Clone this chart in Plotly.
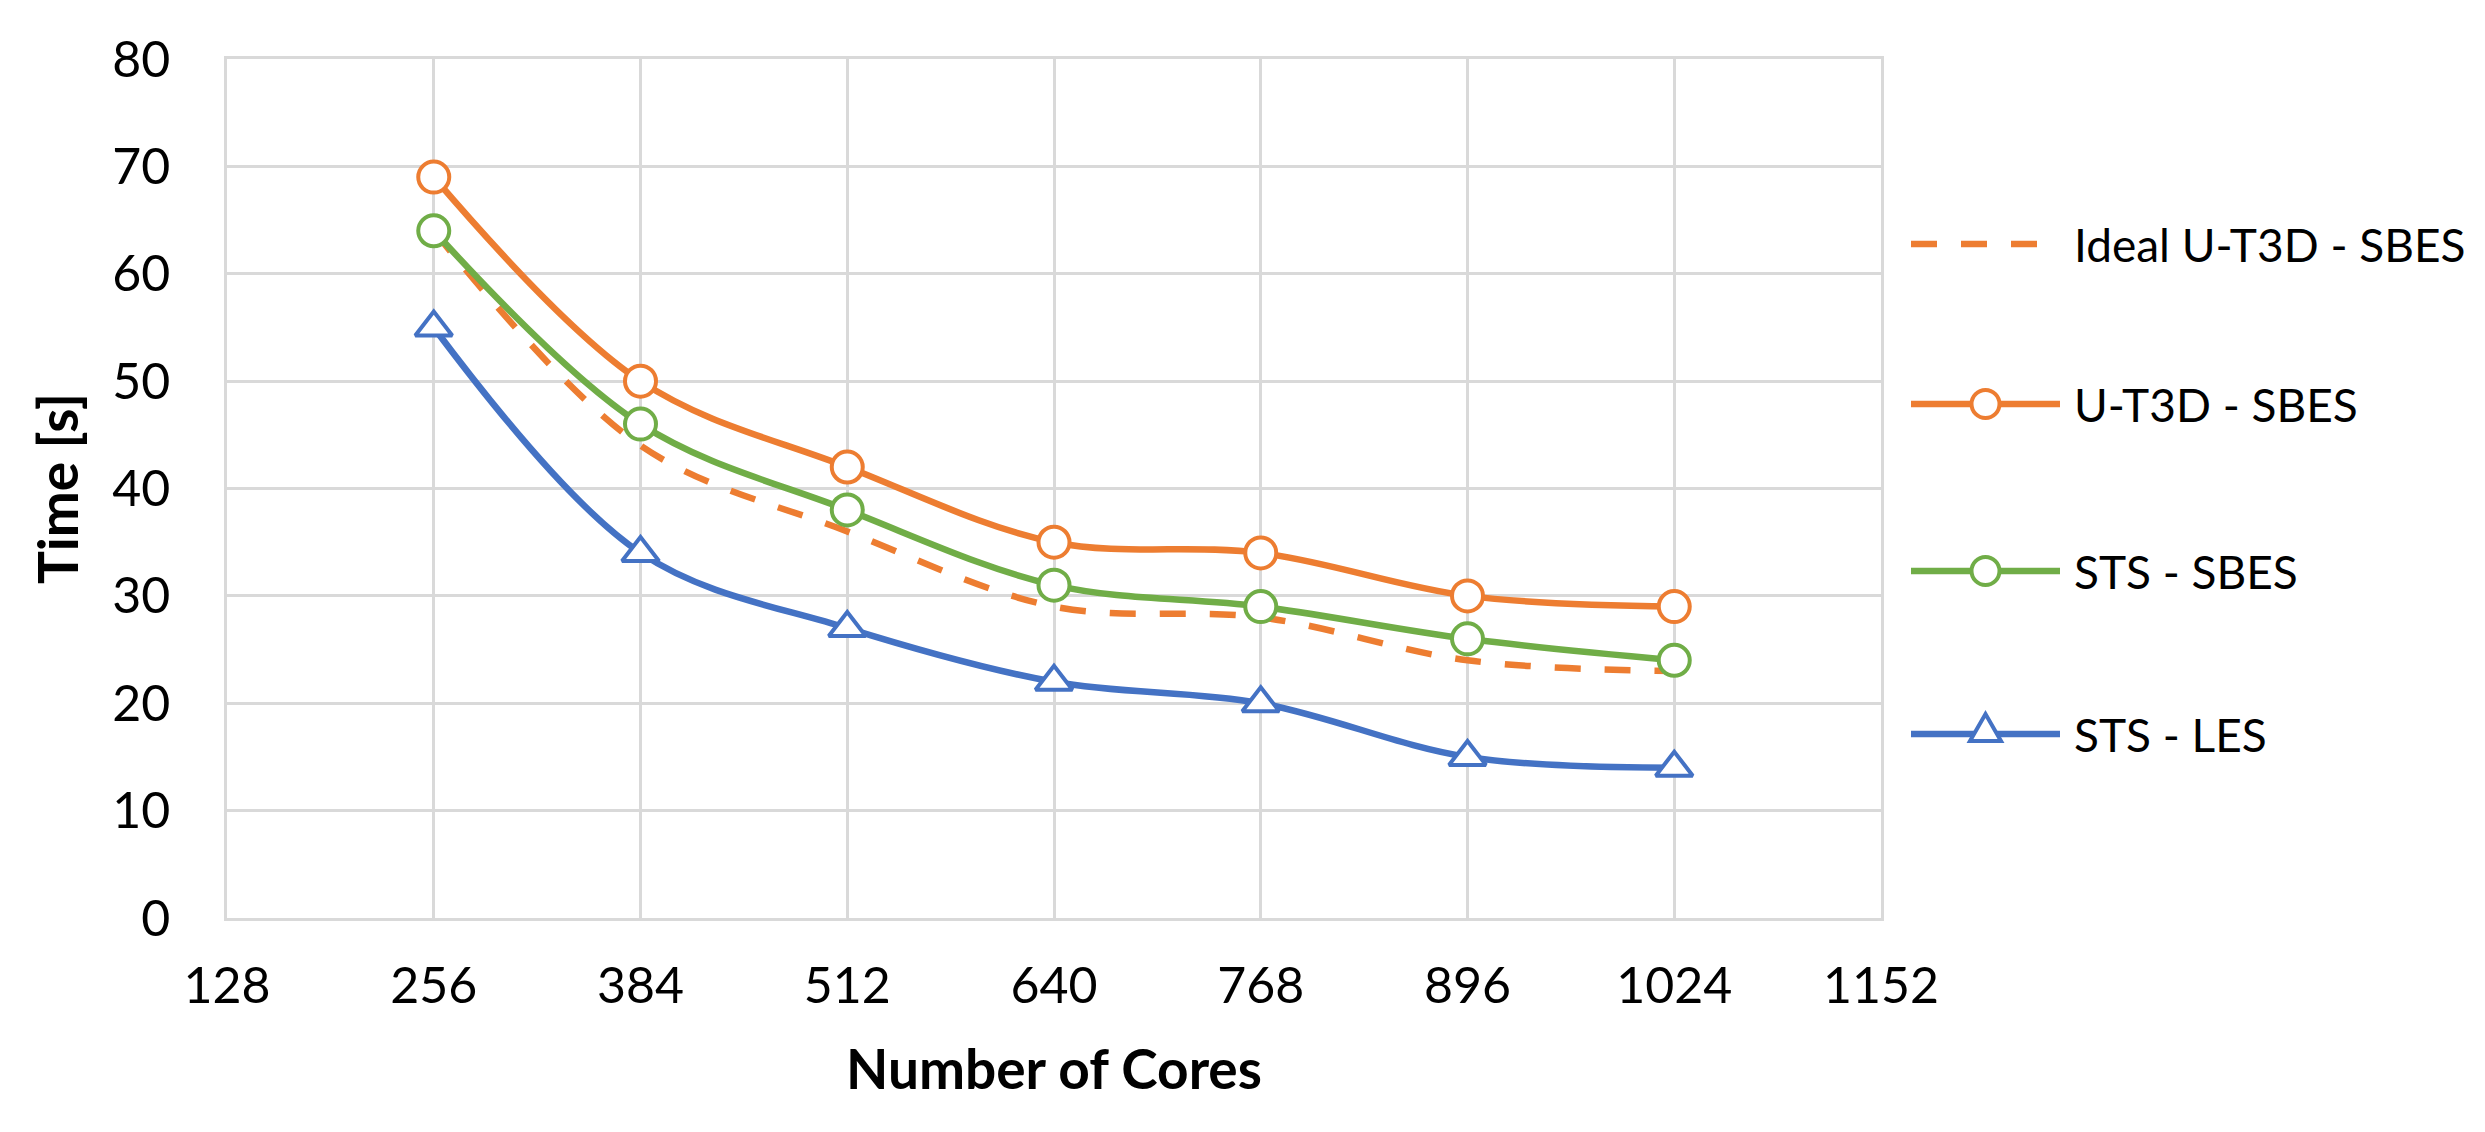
import plotly.graph_objects as go

# ---------------- data ----------------
cores = [256, 384, 512, 640, 768, 896, 1024]
ideal_ut3d_sbes = [64, 44, 36, 29, 28, 24, 23]
ut3d_sbes = [69, 50, 42, 35, 34, 30, 29]
sts_sbes = [64, 46, 38, 31, 29, 26, 24]
sts_les = [55, 34, 27, 22, 20, 15, 14]

x_ticks = [128, 256, 384, 512, 640, 768, 896, 1024, 1152]
y_ticks = [0, 10, 20, 30, 40, 50, 60, 70, 80]

series_names = ["Ideal U-T3D - SBES", "U-T3D - SBES", "STS - SBES", "STS - LES"]
series_colors = ["#ED7D31", "#ED7D31", "#70AD47", "#4472C4"]
series_symbols = [None, "circle", "circle", "triangle-up"]
series_values = [ideal_ut3d_sbes, ut3d_sbes, sts_sbes, sts_les]

FONT = "Lato, 'Open Sans', sans-serif"
GRID = "#D9D9D9"
W, H = 2485, 1132
ML, MR, MT, MB = 219, 612, 51, 222
LW = 6.5
DASH = "26px,24px"

fig = go.Figure()

# draw dashed first so the marker series sit over it
order = [0, 3, 2, 1]
for i in order:
    name, col, sym, vals = series_names[i], series_colors[i], series_symbols[i], series_values[i]
    if sym is None:
        fig.add_trace(go.Scatter(
            x=cores, y=vals, mode="lines", name=name,
            line=dict(color=col, width=LW, dash=DASH, shape="spline", smoothing=1.0),
            showlegend=False))
    else:
        fig.add_trace(go.Scatter(
            x=cores, y=vals, mode="lines+markers", name=name,
            line=dict(color=col, width=LW, shape="spline", smoothing=1.0),
            marker=dict(symbol=sym, size=31 if sym == "circle" else 32, color="white",
                        line=dict(color=col, width=4)),
            showlegend=False))

# ---------------- custom legend (layout, paper coords) ----------------
plot_w = W - ML - MR
plot_h = H - MT - MB
def px_to_paper_x(px):
    return (px - ML) / plot_w
def px_to_paper_y(py):
    return (H - MB - py) / plot_h

legend_y_px = [236, 396, 563, 726]
line_x0, line_x1, text_x = 1903, 2052, 2064
shapes = []
annotations = []
for k, (name, col, sym) in enumerate(zip(series_names, series_colors, series_symbols)):
    yp = px_to_paper_y(legend_y_px[k])
    shapes.append(dict(type="line", xref="paper", yref="paper",
                       x0=px_to_paper_x(line_x0), x1=px_to_paper_x(line_x1), y0=yp, y1=yp,
                       line=dict(color=col, width=LW, dash=DASH if sym is None else "solid")))
    xm = px_to_paper_x((line_x0 + line_x1) / 2)
    if sym == "circle":
        shapes.append(dict(type="circle", xref="paper", yref="paper",
                           xsizemode="pixel", ysizemode="pixel", xanchor=xm, yanchor=yp,
                           x0=-14, x1=14, y0=-14, y1=14,
                           fillcolor="white", line=dict(color=col, width=4)))
    elif sym == "triangle-up":
        shapes.append(dict(type="path", xref="paper", yref="paper",
                           xsizemode="pixel", ysizemode="pixel", xanchor=xm, yanchor=yp,
                           path="M -15.5 -7 L 15.5 -7 L 0 20 Z",
                           fillcolor="white", line=dict(color=col, width=4)))
    annotations.append(dict(xref="paper", yref="paper", x=px_to_paper_x(text_x), y=yp,
                            xanchor="left", yanchor="middle", text=name, showarrow=False,
                            font=dict(family=FONT, size=46, color="#000000")))

fig.update_layout(
    width=W, height=H,
    margin=dict(l=ML, r=MR, t=MT, b=MB),
    paper_bgcolor="white", plot_bgcolor="white",
    font=dict(family=FONT, color="#000000"),
    shapes=shapes, annotations=annotations,
    showlegend=False,
)
fig.update_xaxes(
    range=[128, 1152], tickvals=x_ticks, ticktext=[str(v) for v in x_ticks],
    showgrid=True, gridcolor=GRID, gridwidth=2.5,
    showline=True, linecolor=GRID, linewidth=2.5, mirror=True,
    zeroline=False, ticks="", ticklabelstandoff=22,
    tickfont=dict(family=FONT, size=50, color="#000000"),
    title=dict(text="<b>Number of Cores</b>", font=dict(family=FONT, size=55, color="#000000"), standoff=38),
)
fig.update_yaxes(
    range=[0, 80], tickvals=y_ticks, ticktext=[str(v) for v in y_ticks],
    showgrid=True, gridcolor=GRID, gridwidth=2.5,
    showline=True, linecolor=GRID, linewidth=2.5, mirror=True,
    zeroline=False, ticks="", ticklabelstandoff=44,
    tickfont=dict(family=FONT, size=50, color="#000000"),
    title=dict(text="<b>Time [s]</b>", font=dict(family=FONT, size=55, color="#000000"), standoff=16),
)

fig.write_html("out.html")
